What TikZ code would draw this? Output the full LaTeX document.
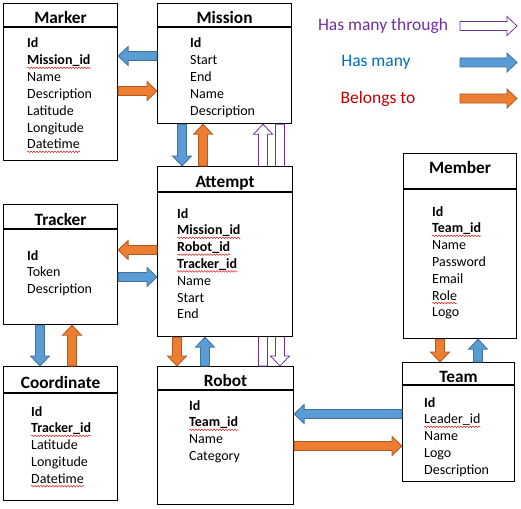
\documentclass[tikz,border=0pt]{standalone}
\usepackage{fontspec}
\setmainfont{Carlito}
\usetikzlibrary{calc,positioning,decorations.pathmorphing}
\definecolor{hmblue}{HTML}{5B9BD5}
\definecolor{hmblueline}{HTML}{41719C}
\definecolor{btorange}{HTML}{ED7D31}
\definecolor{btorangeline}{HTML}{AE5A21}
\definecolor{hmtpurple}{HTML}{7030A0}
\definecolor{lgblue}{HTML}{0070C0}
\definecolor{lgred}{HTML}{C00000}
\definecolor{spellred}{HTML}{E02020}

% one node per field, first baseline at #3
\newcommand{\fieldlist}[4]{%
  \foreach \f [count=\i] in {#4}
    \node[field] (#1\i) at (#2,{#3+16.8*(\i-1)}) {\f};
}

\tikzset{
  head/.style={draw, line width=1.1pt, fill=white, anchor=north west, inner sep=0pt,
    text height=18pt, text depth=1pt,
    font=\fontsize{17.3}{20}\selectfont\bfseries},
  body/.style={draw, line width=1.1pt, fill=white, inner sep=0pt},
  field/.style={anchor=base west, inner sep=0pt, font=\fontsize{14}{17}\selectfont},
  legend/.style={inner sep=0pt, font=\fontsize{17.5}{21}\selectfont},
  squiggle/.style={draw=spellred, line width=0.5pt,
    decorate, decoration={snake, amplitude=0.8pt, segment length=3pt}},
  blockarrow/.style={line width=0.8pt, to path={
    let \p1=(\tikztostart), \p2=(\tikztotarget),
        \p3=($(\p2)!10pt!(\p1)$)
    in ($(\p1)!4.5pt!90:(\p2)$) -- ($(\p3)!4.5pt!90:(\p2)$) -- ($(\p3)!9.5pt!90:(\p2)$)
       -- (\p2) -- ($(\p3)!9.5pt!-90:(\p2)$) -- ($(\p3)!4.5pt!-90:(\p2)$)
       -- ($(\p1)!4.5pt!-90:(\p2)$) -- cycle}},
  hasmany/.style={blockarrow, fill=hmblue, draw=hmblueline},
  belongs/.style={blockarrow, fill=btorange, draw=btorangeline},
  through/.style={blockarrow, fill=white, draw=hmtpurple},
}

\begin{document}
\begin{tikzpicture}[x=1pt, y=-1pt]
  \useasboundingbox (0,0) rectangle (521,508);

  % Tables
  \node[head, minimum width=114pt, minimum height=23pt] (marker) at (3,3) {Marker};
  \node[body, below=0pt of marker, minimum width=114pt, minimum height=133pt] (markerbody) {};
  \node[head, minimum width=134pt, minimum height=23pt] (mission) at (157,3) {Mission};
  \node[body, below=0pt of mission, minimum width=134pt, minimum height=96pt] (missionbody) {};
  \node[head, minimum width=114pt, minimum height=24pt] (tracker) at (3,204) {Tracker};
  \node[body, below=0pt of tracker, minimum width=114pt, minimum height=95pt] (trackerbody) {};
  \node[head, minimum width=114pt, minimum height=26pt] (coord) at (3,366) {Coordinate};
  \node[body, below=0pt of coord, minimum width=114pt, minimum height=107pt] (coordbody) {};
  \node[head, minimum width=136pt, minimum height=23pt] (robot) at (157,366) {Robot};
  \node[body, below=0pt of robot, minimum width=136pt, minimum height=114pt] (robotbody) {};
  \node[head, minimum width=112pt, minimum height=22pt] (team) at (402,362) {Team};
  \node[body, below=0pt of team, minimum width=112pt, minimum height=96pt] (teambody) {};
  \node[head, minimum width=113pt, minimum height=35pt, text height=8pt, text depth=3pt] (member) at (403,153) {Member};
  \node[body, below=0pt of member, minimum width=113pt, minimum height=149pt] (memberbody) {};

  % Has many through, behind Attempt
  \draw[through] (robot.north -| 263,0) to (missionbody.south -| 263,0);
  \draw[through] (missionbody.south -| 280,0) to (robot.north -| 280,0);

  \node[head, minimum width=135pt, minimum height=25pt] (attempt) at (157,166) {Attempt};
  \node[body, below=0pt of attempt, minimum width=135pt, minimum height=144pt] (attemptbody) {};

  % Fields
  \fieldlist{markerf}{27}{48}{\textbf{Id}, \textbf{Mission\_id}, Name, Description, Latitude, Longitude, Datetime}
  \fieldlist{missionf}{190}{48}{\textbf{Id}, Start, End, Name, Description}
  \fieldlist{attemptf}{177}{218}{\textbf{Id}, \textbf{Mission\_id}, \textbf{Robot\_id}, \textbf{Tracker\_id}, Name, Start, End}
  \fieldlist{trackerf}{27}{260}{\textbf{Id}, Token, Description}
  \fieldlist{coordf}{31}{416}{\textbf{Id}, \textbf{Tracker\_id}, Latitude, Longitude, Datetime}
  \fieldlist{robotf}{189}{410}{\textbf{Id}, \textbf{Team\_id}, Name, Category}
  \fieldlist{teamf}{424}{407}{\textbf{Id}, Leader\_id, Name, Logo, Description}
  \fieldlist{memberf}{432}{216}{\textbf{Id}, \textbf{Team\_id}, Name, Password, Email, Role, Logo}

  % spell-check marks
  \foreach \w in {markerf2, markerf7, attemptf2, attemptf3, attemptf4, coordf2, coordf5,
                  robotf2, teamf2, memberf2, memberf6}
    \draw[squiggle] ([yshift=-3pt]\w.base west) -- ([yshift=-3pt]\w.base east);

  % Relations
  \draw[hasmany] (missionbody.west |- 0,56) to (markerbody.east |- 0,56);
  \draw[belongs] (markerbody.east |- 0,91) to (missionbody.west |- 0,91);
  \draw[hasmany] (missionbody.south -| 182,0) to (attempt.north -| 182,0);
  \draw[belongs] (attempt.north -| 203,0) to (missionbody.south -| 203,0);
  \draw[belongs] (attemptbody.west |- 0,250) to (trackerbody.east |- 0,250);
  \draw[hasmany] (trackerbody.east |- 0,277) to (attemptbody.west |- 0,277);
  \draw[hasmany] (trackerbody.south -| 40,0) to (coord.north -| 40,0);
  \draw[belongs] (coord.north -| 72,0) to (trackerbody.south -| 72,0);
  \draw[belongs] (attemptbody.south -| 177,0) to (robot.north -| 177,0);
  \draw[hasmany] (robot.north -| 205,0) to (attemptbody.south -| 205,0);
  \draw[hasmany] (teambody.west |- 0,414) to (robotbody.east |- 0,414);
  \draw[belongs] (robotbody.east |- 0,446) to (teambody.west |- 0,446);
  \draw[belongs] (memberbody.south -| 440,0) to (team.north -| 440,0);
  \draw[hasmany] (team.north -| 478,0) to (memberbody.south -| 478,0);

  % Legend
  \node[legend, text=hmtpurple] (lgthrough) at (383,26) {Has many through};
  \node[legend, text=lgblue] (lghasmany) at (376,62.5) {Has many};
  \node[legend, text=lgred] (lgbelongs) at (378,98.5) {Belongs to};
  \coordinate (lgthroughs) at (460,26);
  \coordinate (lgthrought) at (517,26);
  \coordinate (lghasmanys) at (460,62.5);
  \coordinate (lghasmanyt) at (517,62.5);
  \coordinate (lgbelongss) at (460,98.5);
  \coordinate (lgbelongst) at (517,98.5);
  \draw[through] (lgthroughs) to (lgthrought);
  \draw[hasmany] (lghasmanys) to (lghasmanyt);
  \draw[belongs] (lgbelongss) to (lgbelongst);
\end{tikzpicture}
\end{document}
